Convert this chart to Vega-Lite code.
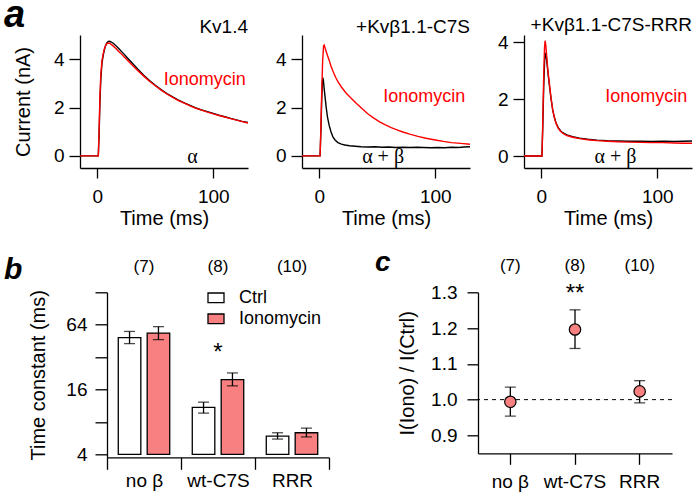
{
  "$schema": "https://vega.github.io/schema/vega-lite/v6.json",
  "background": "white",
  "padding": {"left": 4, "top": -4, "right": 0, "bottom": 0},
  "config": {
    "font": "Liberation Sans",
    "view": {"stroke": null},
    "axis": {"grid": false, "domainColor": "black", "tickColor": "black", "labelColor": "black", "titleColor": "black", "domainWidth": 1.3, "tickWidth": 1.3, "labelFont": "Liberation Sans", "titleFont": "Liberation Sans", "labelFontSize": 19, "titleFontSize": 20, "titleFontWeight": "normal", "labelFlush": false, "labelOverlap": false},
    "title": {"font": "Liberation Sans", "fontSize": 19, "fontWeight": "normal", "color": "black", "anchor": "end", "frame": "group", "baseline": "alphabetic", "offset": -2},
    "legend": {"labelFont": "Liberation Sans", "labelColor": "black"}
  },
  "datasets": {
    "traces": [
      {"p":"a1","c":"Ctrl","t":-15,"i":0},{"p":"a1","c":"Ctrl","t":0,"i":0},{"p":"a1","c":"Ctrl","t":0.8,"i":0},{"p":"a1","c":"Ctrl","t":1.5,"i":0.9},{"p":"a1","c":"Ctrl","t":2.2,"i":2.2},{"p":"a1","c":"Ctrl","t":3,"i":3.2},{"p":"a1","c":"Ctrl","t":4,"i":3.85},{"p":"a1","c":"Ctrl","t":5,"i":4.15},{"p":"a1","c":"Ctrl","t":6,"i":4.38},{"p":"a1","c":"Ctrl","t":7,"i":4.55},{"p":"a1","c":"Ctrl","t":8,"i":4.66},{"p":"a1","c":"Ctrl","t":9,"i":4.72},{"p":"a1","c":"Ctrl","t":10,"i":4.74},{"p":"a1","c":"Ctrl","t":11,"i":4.73},{"p":"a1","c":"Ctrl","t":12,"i":4.71},{"p":"a1","c":"Ctrl","t":14,"i":4.65},{"p":"a1","c":"Ctrl","t":16,"i":4.56},{"p":"a1","c":"Ctrl","t":18,"i":4.46},{"p":"a1","c":"Ctrl","t":20,"i":4.36},{"p":"a1","c":"Ctrl","t":23,"i":4.21},{"p":"a1","c":"Ctrl","t":26,"i":4.05},{"p":"a1","c":"Ctrl","t":30,"i":3.84},{"p":"a1","c":"Ctrl","t":35,"i":3.58},{"p":"a1","c":"Ctrl","t":40,"i":3.34},{"p":"a1","c":"Ctrl","t":45,"i":3.12},{"p":"a1","c":"Ctrl","t":50,"i":2.92},{"p":"a1","c":"Ctrl","t":55,"i":2.74},{"p":"a1","c":"Ctrl","t":60,"i":2.58},{"p":"a1","c":"Ctrl","t":65,"i":2.44},{"p":"a1","c":"Ctrl","t":70,"i":2.31},{"p":"a1","c":"Ctrl","t":75,"i":2.19},{"p":"a1","c":"Ctrl","t":80,"i":2.09},{"p":"a1","c":"Ctrl","t":85,"i":1.99},{"p":"a1","c":"Ctrl","t":90,"i":1.9},{"p":"a1","c":"Ctrl","t":95,"i":1.83},{"p":"a1","c":"Ctrl","t":100,"i":1.76},{"p":"a1","c":"Ctrl","t":105,"i":1.68},{"p":"a1","c":"Ctrl","t":110,"i":1.62},{"p":"a1","c":"Ctrl","t":115,"i":1.55},{"p":"a1","c":"Ctrl","t":120,"i":1.49},{"p":"a1","c":"Ctrl","t":125,"i":1.43},{"p":"a1","c":"Ctrl","t":130,"i":1.38},
      {"p":"a1","c":"Iono","t":-15,"i":0},{"p":"a1","c":"Iono","t":0,"i":0},{"p":"a1","c":"Iono","t":0.8,"i":0},{"p":"a1","c":"Iono","t":1.5,"i":1.1},{"p":"a1","c":"Iono","t":2.2,"i":2.5},{"p":"a1","c":"Iono","t":3,"i":3.4},{"p":"a1","c":"Iono","t":4,"i":3.95},{"p":"a1","c":"Iono","t":5,"i":4.22},{"p":"a1","c":"Iono","t":6,"i":4.42},{"p":"a1","c":"Iono","t":7,"i":4.55},{"p":"a1","c":"Iono","t":8,"i":4.63},{"p":"a1","c":"Iono","t":9,"i":4.66},{"p":"a1","c":"Iono","t":10,"i":4.66},{"p":"a1","c":"Iono","t":11,"i":4.64},{"p":"a1","c":"Iono","t":12,"i":4.61},{"p":"a1","c":"Iono","t":14,"i":4.53},{"p":"a1","c":"Iono","t":16,"i":4.44},{"p":"a1","c":"Iono","t":18,"i":4.34},{"p":"a1","c":"Iono","t":20,"i":4.25},{"p":"a1","c":"Iono","t":23,"i":4.1},{"p":"a1","c":"Iono","t":26,"i":3.96},{"p":"a1","c":"Iono","t":30,"i":3.76},{"p":"a1","c":"Iono","t":35,"i":3.52},{"p":"a1","c":"Iono","t":40,"i":3.3},{"p":"a1","c":"Iono","t":45,"i":3.09},{"p":"a1","c":"Iono","t":50,"i":2.9},{"p":"a1","c":"Iono","t":55,"i":2.72},{"p":"a1","c":"Iono","t":60,"i":2.56},{"p":"a1","c":"Iono","t":65,"i":2.42},{"p":"a1","c":"Iono","t":70,"i":2.29},{"p":"a1","c":"Iono","t":75,"i":2.18},{"p":"a1","c":"Iono","t":80,"i":2.07},{"p":"a1","c":"Iono","t":85,"i":1.97},{"p":"a1","c":"Iono","t":90,"i":1.89},{"p":"a1","c":"Iono","t":95,"i":1.81},{"p":"a1","c":"Iono","t":100,"i":1.74},{"p":"a1","c":"Iono","t":105,"i":1.67},{"p":"a1","c":"Iono","t":110,"i":1.61},{"p":"a1","c":"Iono","t":115,"i":1.54},{"p":"a1","c":"Iono","t":120,"i":1.48},{"p":"a1","c":"Iono","t":125,"i":1.42},{"p":"a1","c":"Iono","t":130,"i":1.36},
      {"p":"a2","c":"Ctrl","t":-15,"i":0},{"p":"a2","c":"Ctrl","t":0,"i":0},{"p":"a2","c":"Ctrl","t":0.6,"i":0},{"p":"a2","c":"Ctrl","t":1.3,"i":1.0},{"p":"a2","c":"Ctrl","t":2,"i":2.3},{"p":"a2","c":"Ctrl","t":2.6,"i":3.1},{"p":"a2","c":"Ctrl","t":3,"i":3.24},{"p":"a2","c":"Ctrl","t":3.5,"i":3.1},{"p":"a2","c":"Ctrl","t":4.2,"i":2.75},{"p":"a2","c":"Ctrl","t":5,"i":2.4},{"p":"a2","c":"Ctrl","t":5.8,"i":2.04},{"p":"a2","c":"Ctrl","t":7,"i":1.6},{"p":"a2","c":"Ctrl","t":8.5,"i":1.25},{"p":"a2","c":"Ctrl","t":10,"i":1.0},{"p":"a2","c":"Ctrl","t":11.6,"i":0.8},{"p":"a2","c":"Ctrl","t":13.5,"i":0.66},{"p":"a2","c":"Ctrl","t":16,"i":0.55},{"p":"a2","c":"Ctrl","t":19,"i":0.49},{"p":"a2","c":"Ctrl","t":22,"i":0.45},{"p":"a2","c":"Ctrl","t":26,"i":0.42},{"p":"a2","c":"Ctrl","t":31,"i":0.4},{"p":"a2","c":"Ctrl","t":36,"i":0.38},{"p":"a2","c":"Ctrl","t":42,"i":0.37},{"p":"a2","c":"Ctrl","t":48,"i":0.38},{"p":"a2","c":"Ctrl","t":54,"i":0.36},{"p":"a2","c":"Ctrl","t":60,"i":0.37},{"p":"a2","c":"Ctrl","t":66,"i":0.35},{"p":"a2","c":"Ctrl","t":72,"i":0.36},{"p":"a2","c":"Ctrl","t":78,"i":0.35},{"p":"a2","c":"Ctrl","t":84,"i":0.36},{"p":"a2","c":"Ctrl","t":90,"i":0.35},{"p":"a2","c":"Ctrl","t":96,"i":0.34},{"p":"a2","c":"Ctrl","t":102,"i":0.35},{"p":"a2","c":"Ctrl","t":108,"i":0.34},{"p":"a2","c":"Ctrl","t":114,"i":0.36},{"p":"a2","c":"Ctrl","t":120,"i":0.35},{"p":"a2","c":"Ctrl","t":125,"i":0.37},{"p":"a2","c":"Ctrl","t":130,"i":0.38},
      {"p":"a2","c":"Iono","t":-15,"i":0},{"p":"a2","c":"Iono","t":0,"i":0},{"p":"a2","c":"Iono","t":0.6,"i":0},{"p":"a2","c":"Iono","t":1.3,"i":1.2},{"p":"a2","c":"Iono","t":2,"i":2.6},{"p":"a2","c":"Iono","t":2.8,"i":3.9},{"p":"a2","c":"Iono","t":3.6,"i":4.55},{"p":"a2","c":"Iono","t":4.2,"i":4.58},{"p":"a2","c":"Iono","t":5,"i":4.45},{"p":"a2","c":"Iono","t":6,"i":4.3},{"p":"a2","c":"Iono","t":7,"i":4.15},{"p":"a2","c":"Iono","t":8.5,"i":3.95},{"p":"a2","c":"Iono","t":10,"i":3.72},{"p":"a2","c":"Iono","t":12,"i":3.47},{"p":"a2","c":"Iono","t":14,"i":3.25},{"p":"a2","c":"Iono","t":16,"i":3.07},{"p":"a2","c":"Iono","t":19,"i":2.85},{"p":"a2","c":"Iono","t":23,"i":2.6},{"p":"a2","c":"Iono","t":27,"i":2.41},{"p":"a2","c":"Iono","t":32,"i":2.17},{"p":"a2","c":"Iono","t":37,"i":1.95},{"p":"a2","c":"Iono","t":42,"i":1.73},{"p":"a2","c":"Iono","t":47,"i":1.56},{"p":"a2","c":"Iono","t":52,"i":1.41},{"p":"a2","c":"Iono","t":57,"i":1.28},{"p":"a2","c":"Iono","t":62,"i":1.17},{"p":"a2","c":"Iono","t":67,"i":1.08},{"p":"a2","c":"Iono","t":72,"i":0.99},{"p":"a2","c":"Iono","t":78,"i":0.9},{"p":"a2","c":"Iono","t":85,"i":0.81},{"p":"a2","c":"Iono","t":92,"i":0.73},{"p":"a2","c":"Iono","t":100,"i":0.66},{"p":"a2","c":"Iono","t":107,"i":0.6},{"p":"a2","c":"Iono","t":114,"i":0.55},{"p":"a2","c":"Iono","t":122,"i":0.52},{"p":"a2","c":"Iono","t":130,"i":0.48},
      {"p":"a3","c":"Ctrl","t":-15,"i":0},{"p":"a3","c":"Ctrl","t":0,"i":0},{"p":"a3","c":"Ctrl","t":0.5,"i":0},{"p":"a3","c":"Ctrl","t":1.2,"i":1.0},{"p":"a3","c":"Ctrl","t":2,"i":2.4},{"p":"a3","c":"Ctrl","t":2.8,"i":3.35},{"p":"a3","c":"Ctrl","t":3.5,"i":3.62},{"p":"a3","c":"Ctrl","t":4.2,"i":3.5},{"p":"a3","c":"Ctrl","t":5,"i":3.2},{"p":"a3","c":"Ctrl","t":6,"i":2.8},{"p":"a3","c":"Ctrl","t":7,"i":2.45},{"p":"a3","c":"Ctrl","t":8.3,"i":2.02},{"p":"a3","c":"Ctrl","t":9.8,"i":1.62},{"p":"a3","c":"Ctrl","t":11.2,"i":1.36},{"p":"a3","c":"Ctrl","t":12.6,"i":1.17},{"p":"a3","c":"Ctrl","t":14.5,"i":1.0},{"p":"a3","c":"Ctrl","t":16.5,"i":0.89},{"p":"a3","c":"Ctrl","t":18.4,"i":0.82},{"p":"a3","c":"Ctrl","t":22,"i":0.74},{"p":"a3","c":"Ctrl","t":27,"i":0.68},{"p":"a3","c":"Ctrl","t":33,"i":0.63},{"p":"a3","c":"Ctrl","t":40,"i":0.59},{"p":"a3","c":"Ctrl","t":48,"i":0.56},{"p":"a3","c":"Ctrl","t":57,"i":0.54},{"p":"a3","c":"Ctrl","t":66,"i":0.53},{"p":"a3","c":"Ctrl","t":75,"i":0.52},{"p":"a3","c":"Ctrl","t":85,"i":0.52},{"p":"a3","c":"Ctrl","t":95,"i":0.51},{"p":"a3","c":"Ctrl","t":105,"i":0.52},{"p":"a3","c":"Ctrl","t":115,"i":0.51},{"p":"a3","c":"Ctrl","t":122,"i":0.52},{"p":"a3","c":"Ctrl","t":130,"i":0.53},
      {"p":"a3","c":"Iono","t":-15,"i":0},{"p":"a3","c":"Iono","t":0,"i":0},{"p":"a3","c":"Iono","t":0.5,"i":0},{"p":"a3","c":"Iono","t":1.2,"i":1.2},{"p":"a3","c":"Iono","t":2,"i":2.8},{"p":"a3","c":"Iono","t":2.7,"i":3.8},{"p":"a3","c":"Iono","t":3.2,"i":4.05},{"p":"a3","c":"Iono","t":3.8,"i":3.9},{"p":"a3","c":"Iono","t":4.6,"i":3.5},{"p":"a3","c":"Iono","t":5.5,"i":3.05},{"p":"a3","c":"Iono","t":6.9,"i":2.55},{"p":"a3","c":"Iono","t":8.3,"i":2.05},{"p":"a3","c":"Iono","t":9.8,"i":1.61},{"p":"a3","c":"Iono","t":11.2,"i":1.35},{"p":"a3","c":"Iono","t":12.6,"i":1.15},{"p":"a3","c":"Iono","t":14.5,"i":0.98},{"p":"a3","c":"Iono","t":16.5,"i":0.87},{"p":"a3","c":"Iono","t":18.4,"i":0.8},{"p":"a3","c":"Iono","t":22,"i":0.72},{"p":"a3","c":"Iono","t":27,"i":0.66},{"p":"a3","c":"Iono","t":33,"i":0.61},{"p":"a3","c":"Iono","t":40,"i":0.57},{"p":"a3","c":"Iono","t":48,"i":0.54},{"p":"a3","c":"Iono","t":57,"i":0.52},{"p":"a3","c":"Iono","t":66,"i":0.5},{"p":"a3","c":"Iono","t":75,"i":0.49},{"p":"a3","c":"Iono","t":85,"i":0.48},{"p":"a3","c":"Iono","t":95,"i":0.47},{"p":"a3","c":"Iono","t":105,"i":0.47},{"p":"a3","c":"Iono","t":115,"i":0.46},{"p":"a3","c":"Iono","t":122,"i":0.45},{"p":"a3","c":"Iono","t":130,"i":0.45}
    ],
    "bars": [
      {"g":"no β","cond":"Ctrl","mean":48.5,"lo":42.7,"hi":55.4},
      {"g":"no β","cond":"Ionomycin","mean":53.5,"lo":46.5,"hi":61.4},
      {"g":"wt-C7S","cond":"Ctrl","mean":10.9,"lo":9.65,"hi":12.2},
      {"g":"wt-C7S","cond":"Ionomycin","mean":19.8,"lo":17.3,"hi":22.8},
      {"g":"RRR","cond":"Ctrl","mean":5.91,"lo":5.54,"hi":6.34},
      {"g":"RRR","cond":"Ionomycin","mean":6.34,"lo":5.8,"hi":7.0}
    ],
    "ratio": [
      {"g":"no β","r":0.994,"lo":0.954,"hi":1.035},
      {"g":"wt-C7S","r":1.196,"lo":1.143,"hi":1.251},
      {"g":"RRR","r":1.023,"lo":0.991,"hi":1.053}
    ],
    "counts": [
      {"g":"no β","n":"(7)"},
      {"g":"wt-C7S","n":"(8)"},
      {"g":"RRR","n":"(10)"}
    ]
  },
  "columns": 1,
  "align": "none",
  "bounds": "full",
  "spacing": {"row": 20.3, "column": 0},
  "resolve": {"legend": {"fill": "independent"}},
  "concat": [
    {
      "title": {"text": "a", "anchor": "start", "frame": "group", "fontSize": 38, "fontStyle": "italic", "fontWeight": "bold", "dx": -76, "offset": -48.4, "baseline": "alphabetic"},
      "bounds": "flush",
      "spacing": 54,
      "hconcat": [
        {
          "width": 168, "height": 133,
          "title": {"text": "Kv1.4"},
          "layer": [
            {"data": {"name": "traces"}, "transform": [{"filter": "datum.p == 'a1' && datum.c == 'Ctrl'"}], "mark": {"type": "line", "color": "black", "strokeWidth": 1.4},
             "encoding": {
              "x": {"field": "t", "type": "quantitative", "scale": {"domain": [-15, 130], "nice": false, "zero": false}, "axis": {"values": [0, 100], "title": "Time (ms)", "tickSize": 10, "labelPadding": 9, "titlePadding": 2}},
              "y": {"field": "i", "type": "quantitative", "scale": {"domain": [-0.5, 5], "nice": false, "zero": false}, "axis": {"values": [0, 2, 4], "title": "Current (nA)", "tickSize": 11, "labelPadding": 5, "titlePadding": 20}}
             }},
            {"data": {"name": "traces"}, "transform": [{"filter": "datum.p == 'a1' && datum.c == 'Iono'"}], "mark": {"type": "line", "color": "#ff0000", "strokeWidth": 1.4},
             "encoding": {"x": {"field": "t", "type": "quantitative"}, "y": {"field": "i", "type": "quantitative"}}},
            {"data": {"values": [{}]}, "mark": {"type": "text", "text": "Ionomycin", "align": "right", "baseline": "alphabetic", "color": "#ff0000", "fontSize": 18}, "encoding": {"x": {"datum": 128, "type": "quantitative"}, "y": {"datum": 2.93, "type": "quantitative"}}},
            {"data": {"values": [{}]}, "mark": {"type": "text", "text": "α", "align": "center", "baseline": "alphabetic", "font": "Liberation Serif", "fontSize": 20, "color": "black"}, "encoding": {"x": {"datum": 82, "type": "quantitative"}, "y": {"datum": -0.29, "type": "quantitative"}}}
          ]
        },
        {
          "width": 168, "height": 133,
          "title": {"text": "+Kvβ1.1-C7S"},
          "layer": [
            {"data": {"name": "traces"}, "transform": [{"filter": "datum.p == 'a2' && datum.c == 'Ctrl'"}], "mark": {"type": "line", "color": "black", "strokeWidth": 1.4},
             "encoding": {
              "x": {"field": "t", "type": "quantitative", "scale": {"domain": [-15, 130], "nice": false, "zero": false}, "axis": {"values": [0, 100], "title": "Time (ms)", "tickSize": 10, "labelPadding": 9, "titlePadding": 2}},
              "y": {"field": "i", "type": "quantitative", "scale": {"domain": [-0.5, 5], "nice": false, "zero": false}, "axis": {"values": [0, 2, 4], "title": null, "tickSize": 11, "labelPadding": 5}}
             }},
            {"data": {"name": "traces"}, "transform": [{"filter": "datum.p == 'a2' && datum.c == 'Iono'"}], "mark": {"type": "line", "color": "#ff0000", "strokeWidth": 1.4},
             "encoding": {"x": {"field": "t", "type": "quantitative"}, "y": {"field": "i", "type": "quantitative"}}},
            {"data": {"values": [{}]}, "mark": {"type": "text", "text": "Ionomycin", "align": "right", "baseline": "alphabetic", "color": "#ff0000", "fontSize": 18}, "encoding": {"x": {"datum": 126, "type": "quantitative"}, "y": {"datum": 2.24, "type": "quantitative"}}},
            {"data": {"values": [{}]}, "mark": {"type": "text", "text": "α + β", "align": "center", "baseline": "alphabetic", "font": "Liberation Serif", "fontSize": 20, "color": "black"}, "encoding": {"x": {"datum": 55, "type": "quantitative"}, "y": {"datum": -0.3, "type": "quantitative"}}}
          ]
        },
        {
          "width": 168, "height": 133,
          "title": {"text": "+Kvβ1.1-C7S-RRR"},
          "layer": [
            {"data": {"name": "traces"}, "transform": [{"filter": "datum.p == 'a3' && datum.c == 'Ctrl'"}], "mark": {"type": "line", "color": "black", "strokeWidth": 1.4},
             "encoding": {
              "x": {"field": "t", "type": "quantitative", "scale": {"domain": [-15, 130], "nice": false, "zero": false}, "axis": {"values": [0, 100], "title": "Time (ms)", "tickSize": 10, "labelPadding": 9, "titlePadding": 2}},
              "y": {"field": "i", "type": "quantitative", "scale": {"domain": [-0.42, 4.25], "nice": false, "zero": false}, "axis": {"values": [0, 2, 4], "title": null, "tickSize": 11, "labelPadding": 5}}
             }},
            {"data": {"name": "traces"}, "transform": [{"filter": "datum.p == 'a3' && datum.c == 'Iono'"}], "mark": {"type": "line", "color": "#ff0000", "strokeWidth": 1.4},
             "encoding": {"x": {"field": "t", "type": "quantitative"}, "y": {"field": "i", "type": "quantitative"}}},
            {"data": {"values": [{}]}, "mark": {"type": "text", "text": "Ionomycin", "align": "right", "baseline": "alphabetic", "color": "#ff0000", "fontSize": 18}, "encoding": {"x": {"datum": 126, "type": "quantitative"}, "y": {"datum": 1.89, "type": "quantitative"}}},
            {"data": {"values": [{}]}, "mark": {"type": "text", "text": "α + β", "align": "center", "baseline": "alphabetic", "font": "Liberation Serif", "fontSize": 20, "color": "black"}, "encoding": {"x": {"datum": 64, "type": "quantitative"}, "y": {"datum": -0.25, "type": "quantitative"}}}
          ]
        }
      ]
    },
    {
      "bounds": "flush",
      "spacing": 149,
      "resolve": {"legend": {"fill": "independent"}},
      "hconcat": [
        {
          "width": 249, "height": 165,
          "title": {"text": "b", "anchor": "start", "frame": "group", "fontSize": 30, "fontStyle": "italic", "fontWeight": "bold", "dx": -76, "offset": -51.3, "baseline": "alphabetic"},
          "data": {"name": "bars"},
          "encoding": {
            "x": {"field": "g", "type": "nominal", "sort": ["no β", "wt-C7S", "RRR"], "scale": {"domain": ["no β", "wt-C7S", "RRR"], "range": [27, 249], "paddingInner": 0, "paddingOuter": 0}, "axis": {"title": null, "tickBand": "extent", "tickSize": 12, "labelPadding": 2, "labelAngle": 0}}
          },
          "layer": [
            {
              "mark": {"type": "bar", "stroke": "black", "strokeWidth": 1.3},
              "encoding": {
                "xOffset": {"field": "cond", "type": "nominal", "scale": {"domain": ["Ctrl", "Ionomycin"], "paddingInner": 0.22, "paddingOuter": 0.39}},
                "y": {"field": "mean", "type": "quantitative", "scale": {"type": "log", "base": 2, "domain": [3.75, 128], "nice": false, "zero": false}, "axis": {"values": [4, 8, 16, 32, 64, 128], "labelExpr": "datum.value == 4 || datum.value == 16 || datum.value == 64 ? datum.label : ''", "format": "d", "title": "Time constant (ms)", "offset": -27, "tickSize": 12, "labelPadding": 8, "titlePadding": 17}},
                "y2": {"datum": 4},
                "fill": {"field": "cond", "type": "nominal", "scale": {"domain": ["Ctrl", "Ionomycin"], "range": ["white", "#f98080"]}, "legend": {"orient": "none", "legendX": 127, "legendY": -3.5, "title": null, "symbolType": "M-1,-0.6H1V0.6H-1Z", "symbolSize": 256, "symbolStrokeColor": "black", "symbolStrokeWidth": 1.3, "symbolOpacity": 1, "labelFontSize": 18, "labelOffset": 14, "rowPadding": 3}}
              }
            },
            {
              "mark": {"type": "rule", "color": "black", "strokeWidth": 1.3},
              "encoding": {
                "xOffset": {"field": "cond", "type": "nominal"},
                "y": {"field": "lo", "type": "quantitative"},
                "y2": {"field": "hi"}
              }
            },
            {
              "mark": {"type": "tick", "color": "black", "size": 11, "thickness": 1.3},
              "encoding": {
                "xOffset": {"field": "cond", "type": "nominal"},
                "y": {"field": "lo", "type": "quantitative"}
              }
            },
            {
              "mark": {"type": "tick", "color": "black", "size": 11, "thickness": 1.3},
              "encoding": {
                "xOffset": {"field": "cond", "type": "nominal"},
                "y": {"field": "hi", "type": "quantitative"}
              }
            },
            {
              "data": {"name": "counts"},
              "mark": {"type": "text", "fontSize": 17, "baseline": "alphabetic", "color": "black"},
              "encoding": {"text": {"field": "n"}, "y": {"datum": 199}}
            },
            {
              "data": {"values": [{}]},
              "mark": {"type": "text", "text": "*", "fontSize": 24, "baseline": "alphabetic", "color": "black"},
              "encoding": {"x": {"datum": "wt-C7S"}, "y": {"datum": 30}}
            }
          ]
        },
        {
          "width": 194, "height": 161,
          "title": {"text": "c", "anchor": "start", "frame": "group", "fontSize": 28, "fontStyle": "italic", "fontWeight": "bold", "dx": -103, "offset": -42.1, "baseline": "alphabetic"},
          "layer": [
            {
              "data": {"values": [{}]},
              "mark": {"type": "rule", "color": "black", "strokeWidth": 1, "strokeDash": [4, 4]},
              "encoding": {"y": {"datum": 1.0, "type": "quantitative", "scale": {"domain": [0.85, 1.3], "nice": false, "zero": false}, "axis": {"values": [0.9, 1.0, 1.1, 1.2, 1.3], "format": ".1f", "title": "I(Iono) / I(Ctrl)", "titleFontSize": 20, "tickSize": 11, "labelPadding": 10, "titlePadding": 13}}}
            },
            {
              "data": {"name": "ratio"},
              "mark": {"type": "rule", "color": "black", "strokeWidth": 1.3},
              "encoding": {
                "x": {"field": "g", "type": "nominal", "sort": ["no β", "wt-C7S", "RRR"], "scale": {"domain": ["no β", "wt-C7S", "RRR"], "paddingInner": 0, "paddingOuter": 0}, "axis": {"title": null, "tickSize": 11, "labelPadding": 8, "labelAngle": 0}},
                "y": {"field": "lo", "type": "quantitative"}, "y2": {"field": "hi"}
              }
            },
            {
              "data": {"name": "ratio"},
              "mark": {"type": "tick", "color": "black", "size": 11, "thickness": 1.3},
              "encoding": {"x": {"field": "g", "type": "nominal"}, "y": {"field": "lo", "type": "quantitative"}}
            },
            {
              "data": {"name": "ratio"},
              "mark": {"type": "tick", "color": "black", "size": 11, "thickness": 1.3},
              "encoding": {"x": {"field": "g", "type": "nominal"}, "y": {"field": "hi", "type": "quantitative"}}
            },
            {
              "data": {"name": "ratio"},
              "mark": {"type": "point", "shape": "circle", "filled": true, "size": 130, "fill": "#f98080", "stroke": "black", "strokeWidth": 1.2, "opacity": 1},
              "encoding": {"x": {"field": "g", "type": "nominal"}, "y": {"field": "r", "type": "quantitative"}}
            },
            {
              "data": {"name": "counts"},
              "mark": {"type": "text", "fontSize": 17, "baseline": "alphabetic", "color": "black"},
              "encoding": {"x": {"field": "g", "type": "nominal"}, "text": {"field": "n"}, "y": {"datum": 1.3606}}
            },
            {
              "data": {"values": [{}]},
              "mark": {"type": "text", "text": "**", "fontSize": 24, "baseline": "alphabetic", "color": "black"},
              "encoding": {"x": {"datum": "wt-C7S"}, "y": {"datum": 1.2766}}
            }
          ]
        }
      ]
    }
  ]
}
